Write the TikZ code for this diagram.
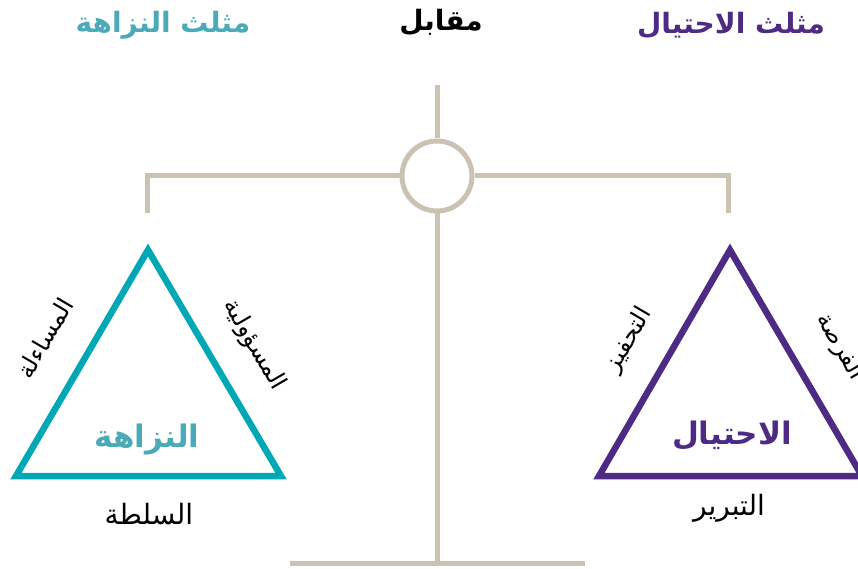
\documentclass[tikz,border=0pt]{standalone}
\usepackage{fontspec}
\newfontfamily\arabicfont[Script=Arabic]{DejaVu Sans}
\TeXXeTstate=1
\definecolor{tealc}{HTML}{00A7B5}
\definecolor{tealt}{HTML}{4BAAB8}
\definecolor{purp}{HTML}{4D2A84}
\definecolor{scalec}{HTML}{CBC2B3}
\tikzset{
  scaleline/.style={draw=scalec, line width=5pt},
  tri/.style={line width=6.5pt, miter limit=20, line join=miter},
  title/.style={font=\arabicfont\bfseries\fontsize{28}{32}\selectfont, inner sep=0pt},
  inlabel/.style={font=\arabicfont\bfseries\fontsize{31}{34}\selectfont, inner sep=0pt},
  lab/.style={font=\arabicfont\fontsize{28}{30}\selectfont, inner sep=0pt, text=black},
  sidelab/.style={font=\arabicfont\fontsize{24}{26}\selectfont, inner sep=0pt, text=black},
}
\begin{document}
\begin{tikzpicture}[x=1pt,y=-1pt]
\useasboundingbox (0,0) rectangle (858,569);
% scale
\coordinate (top) at (437,85);
\coordinate (bot) at (437,565);
\coordinate (baseL) at (290,563);
\coordinate (baseR) at (585,563);
\coordinate (beamL) at (147,213);
\coordinate (beamR) at (728,213);
\node[circle, draw=scalec, line width=5pt, minimum size=70pt, inner sep=0pt] (hub) at (437,176) {};
\draw[scaleline] (top) -- (hub.north);
\draw[scaleline] (hub.south) -- (bot);
\draw[scaleline] (baseL) -- (baseR);
\draw[scaleline, line join=miter] (hub.west) -| (beamL);
\draw[scaleline, line join=miter] (hub.east) -| (beamR);
% left triangle
\coordinate (LA) at (148,250);
\coordinate (LB) at (16,476);
\coordinate (LC) at (281,476);
\draw[tri, draw=tealc] (LA) -- (LB) -- (LC) -- cycle;
% right triangle
\coordinate (RA) at (730,250);
\coordinate (RB) at (599,476);
\coordinate (RC) at (862,476);
\draw[tri, draw=purp] (RA) -- (RB) -- (RC) -- cycle;
% titles
\node[title, text=tealt] (t1) at (163,25) {\beginR مثلث النزاهة\endR};
\node[title, text=black] (t2) at (441,22) {\beginR مقابل\endR};
\node[title, text=purp] (t3) at (731,25) {\beginR مثلث الاحتيال\endR};
% inner labels
\node[inlabel, text=tealt] (in1) at (147,440) {\beginR النزاهة\endR};
\node[inlabel, text=purp] (in2) at (732,436) {\beginR الاحتيال\endR};
% bottom labels
\node[lab] (b1) at (149,514) {\beginR السلطة\endR};
\node[lab] (b2) at (729,508) {\beginR التبرير\endR};
% side labels
\node[sidelab, rotate=59.7] (s1) at (45,338) {\beginR المساءلة\endR};
\node[sidelab, rotate=-59.7] (s2) at (254,345) {\beginR المسؤولية\endR};
\node[sidelab, rotate=59.7] (s3) at (629,340) {\beginR التحفيز\endR};
\node[sidelab, rotate=-59.7] (s4) at (840,347) {\beginR الفرصة\endR};
\end{tikzpicture}
\end{document}
